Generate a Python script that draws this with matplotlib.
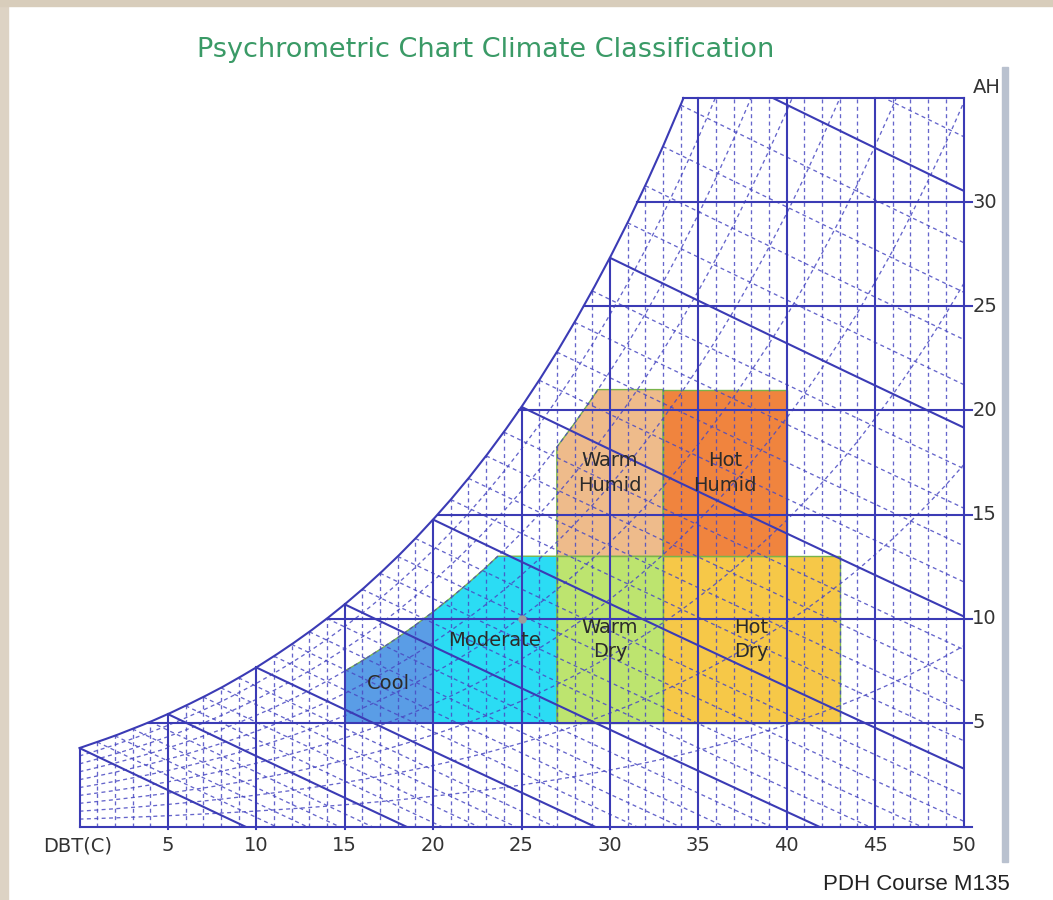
import numpy as np
import matplotlib
matplotlib.use("Agg")
import matplotlib.pyplot as plt
from matplotlib.patches import Polygon, Rectangle

# ---------------- data ----------------
# saturation absolute humidity (g/kg dry air) at dry-bulb temperature (deg C)
sat_t = list(range(0, 51))
sat_w = [3.79, 4.08, 4.38, 4.71, 5.05, 5.42, 5.82, 6.24, 6.68, 7.16,
         7.66, 8.20, 8.77, 9.37, 10.01, 10.69, 11.41, 12.18, 12.99, 13.85,
         14.76, 15.72, 16.74, 17.82, 18.96, 20.17, 21.45, 22.80, 24.23, 25.74,
         27.33, 29.01, 30.79, 32.67, 34.66, 36.76, 38.97, 41.30, 43.80, 46.40,
         49.10, 52.00, 55.10, 58.30, 61.70, 65.40, 69.20, 73.30, 77.60, 82.10,
         86.90]

rh_levels = [0.1, 0.2, 0.3, 0.4, 0.5, 0.6, 0.7, 0.8, 0.9]
db_major = [5, 10, 15, 20, 25, 30, 35, 40, 45]
db_labels = ["5", "10", "15", "20", "25", "30", "35", "40", "45", "50"]
db_label_pos = [5, 10, 15, 20, 25, 30, 35, 40, 45, 50]
ah_major = [5, 10, 15, 20, 25, 30]
ah_labels = ["5", "10", "15", "20", "25", "30"]
wb_major = [0, 5, 10, 15, 20, 25, 30, 35]
wb_all = list(range(0, 37))
db_all = list(range(1, 50))

zone_names = ["Cool", "Moderate", "Warm\nDry", "Hot\nDry", "Warm\nHumid", "Hot\nHumid"]
zone_t_lo = [15, 20, 27, 33, 27, 33]
zone_t_hi = [20, 27, 33, 43, 33, 40]
zone_w_lo = [5, 5, 5, 5, 13, 13]
zone_w_hi = [13, 13, 13, 13, 21, 21]
zone_rh_cap = [0.70, 0.70, 1.0, 1.0, 0.80, 1.0]
zone_colors = ["#5a9de6", "#2bdcf4", "#bde46f", "#f6c848", "#eebb8b", "#f0843e"]

marker_t = [25]
marker_w = [10]

T_MAX, W_MAX = 50, 35

# ---------------- helpers ----------------
def sat(t):
    return np.interp(t, sat_t, sat_w)

def wb_line(twb, t):
    h = 1.006 * twb + sat(twb) / 1000.0 * (2501 + 1.86 * twb)
    return (h - 1.006 * t) * 1000.0 / (2501 + 1.86 * t)

t_top = float(np.interp(W_MAX, sat_w, sat_t))

fig = plt.figure(figsize=(10.53, 9.0), dpi=100)
fig.patch.set_facecolor("white")
ax = fig.add_axes([79.5 / 1053, 73 / 900, 884 / 1053, 729 / 900])
ax.set_xlim(0, T_MAX)
ax.set_ylim(0, W_MAX)
ax.axis("off")

SOLID = "#3b3bb5"
DASH = "#4a4ac2"

# chart region (clip)
ts = np.linspace(0, t_top, 300)
outline = [(0, 0), (0, sat(0))] + [(t, sat(t)) for t in ts] + [(T_MAX, W_MAX), (T_MAX, 0)]
clip = Polygon(outline, closed=True, facecolor="white", edgecolor="none", zorder=0)
ax.add_patch(clip)

# climate zones
for name, tl, th, wl, wh, cap, col in zip(zone_names, zone_t_lo, zone_t_hi, zone_w_lo,
                                          zone_w_hi, zone_rh_cap, zone_colors):
    tt = np.linspace(tl, th, 120)
    upper = np.minimum(wh, cap * sat(tt))
    poly = [(tl, wl), (th, wl)] + [(t, w) for t, w in zip(tt[::-1], upper[::-1])]
    ax.add_patch(Polygon(poly, closed=True, facecolor=col, edgecolor="#78b44a",
                         lw=1.0, zorder=1))
    tm = (tl + th) / 2
    wm = (wl + min(wh, cap * sat(tm))) / 2
    ax.text(tm, wm, name, ha="center", va="center", fontsize=14, color="#2b2b2b",
            family="DejaVu Sans", linespacing=1.35, zorder=6)

ax.plot(marker_t, marker_w, "o", color="#9c9c9c", ms=5, zorder=6)

dash_kw = dict(color=DASH, lw=0.95, dashes=(3, 2.6), zorder=2, alpha=0.85)

# dashed dry-bulb verticals every 1 C
for t in db_all:
    if t % 5 == 0:
        continue
    ln, = ax.plot([t, t], [0, min(sat(t), W_MAX)], **dash_kw)
    ln.set_clip_path(clip)

# dashed RH curves
for rh in rh_levels:
    ln, = ax.plot(sat_t, rh * np.array(sat_w), **dash_kw)
    ln.set_clip_path(clip)

# wet-bulb lines
for twb in wb_all:
    t = np.linspace(twb, 70, 400)
    w = wb_line(twb, t)
    if twb in wb_major:
        ln, = ax.plot(t, w, color=SOLID, lw=1.5, zorder=3)
    else:
        ln, = ax.plot(t, w, **dash_kw)
    ln.set_clip_path(clip)

# solid dry-bulb verticals
for t in db_major:
    ax.plot([t, t], [-0.1, min(sat(t), W_MAX)], color=SOLID, lw=1.5, zorder=3,
            clip_on=False)

# solid AH horizontals
for w in ah_major:
    t0 = float(np.interp(w, sat_w, sat_t))
    ax.plot([t0, T_MAX + 0.5], [w, w], color=SOLID, lw=1.5, zorder=3, clip_on=False)

# outline
ax.plot(ts, sat(ts), color=SOLID, lw=1.5, zorder=3, clip_on=False)
ax.plot([0, 0], [0, sat(0)], color=SOLID, lw=1.5, zorder=3, clip_on=False)
ax.plot([0, T_MAX + 0.5], [0, 0], color=SOLID, lw=1.5, zorder=3, clip_on=False)
ax.plot([T_MAX, T_MAX], [0, W_MAX], color=SOLID, lw=1.5, zorder=3, clip_on=False)
ax.plot([t_top, T_MAX], [W_MAX, W_MAX], color=SOLID, lw=1.5, zorder=3, clip_on=False)

# axis labels
lab_kw = dict(fontsize=14, color="#333333", family="DejaVu Sans", clip_on=False)
for pos, lab in zip(db_label_pos, db_labels):
    ax.text(pos, -0.9, lab, ha="center", va="center", **lab_kw)
ax.text(-0.1, -0.9, "DBT(C)", ha="center", va="center", **lab_kw)
for w, lab in zip(ah_major, ah_labels):
    ax.text(T_MAX + 0.5, w, lab, ha="left", va="center", **lab_kw)
ax.text(T_MAX + 0.55, W_MAX + 0.5, "AH", ha="left", va="center", **lab_kw)

# title and footer
fig.text(486 / 1053, 1 - 50 / 900, "Psychrometric Chart Climate Classification",
         ha="center", va="center", fontsize=19.5, color="#3a9a66", family="DejaVu Sans")
fig.text(1010 / 1053, 1 - 885 / 900, "PDH Course M135", ha="right", va="center",
         fontsize=16, color="#222222", family="Liberation Sans")

# decorations: grey bar, textured frame strips
fig.patches.append(Rectangle((1002 / 1053, 1 - 862 / 900), 6 / 1053, 795 / 900,
                             transform=fig.transFigure, color="#b9c1cf", zorder=10))
fig.patches.append(Rectangle((0, 0), 8 / 1053, 1, transform=fig.transFigure,
                             color="#ddd3c4", zorder=10))
fig.patches.append(Rectangle((0, 1 - 6 / 900), 1, 6 / 900, transform=fig.transFigure,
                             color="#d8cdbb", zorder=10))

fig.savefig("out.png", dpi=100, facecolor="white")
